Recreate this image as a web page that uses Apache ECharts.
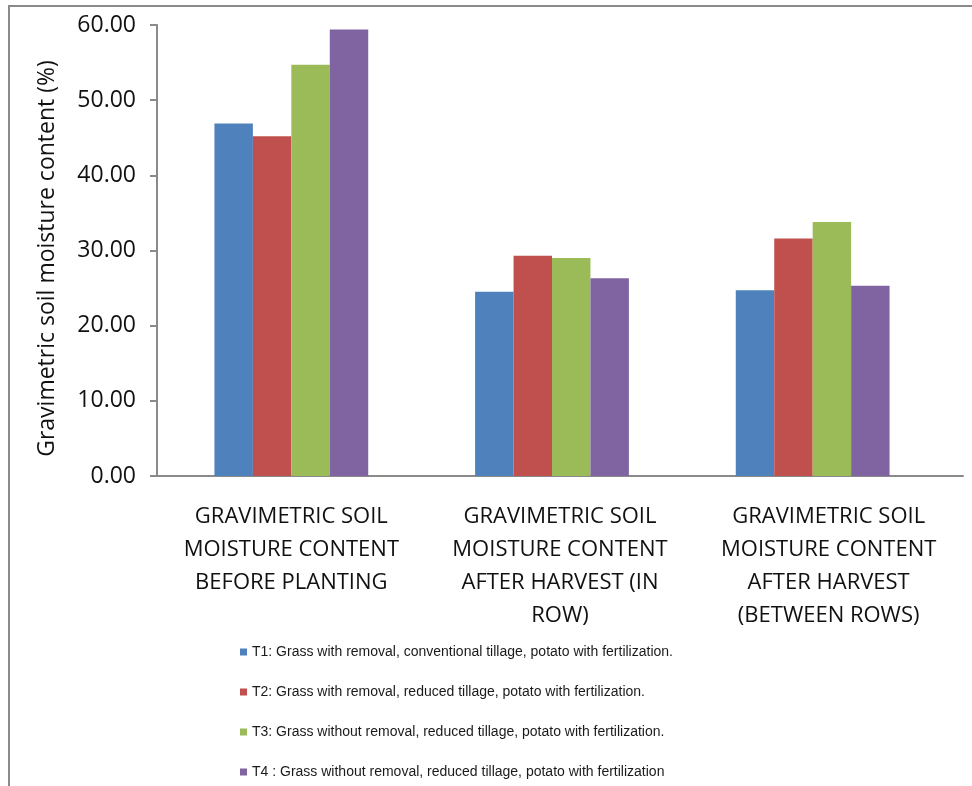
<!DOCTYPE html>
<html>
<head>
<meta charset="utf-8">
<script src="https://cdn.jsdelivr.net/npm/echarts@6/dist/echarts.min.js"></script>
<style>
  html, body { margin: 0; padding: 0; background: #fff; }
  #chart { width: 972px; height: 786px; }
</style>
</head>
<body>
<div id="chart"></div>
<script>
// Sampling stages (category axis)
const categories = [
  'GRAVIMETRIC SOIL\nMOISTURE CONTENT\nBEFORE PLANTING',
  'GRAVIMETRIC SOIL\nMOISTURE CONTENT\nAFTER HARVEST (IN\nROW)',
  'GRAVIMETRIC SOIL\nMOISTURE CONTENT\nAFTER HARVEST\n(BETWEEN ROWS)'
];

// Treatment names
const treatmentNames = [
  'T1: Grass with removal, conventional tillage, potato with fertilization.',
  'T2: Grass with removal, reduced tillage, potato with fertilization.',
  'T3: Grass without removal, reduced tillage, potato with fertilization.',
  'T4 : Grass without removal, reduced tillage, potato with fertilization'
];

// Gravimetric soil moisture content (%) per treatment, per stage
const t1Values = [46.9, 24.5, 24.7];
const t2Values = [45.2, 29.3, 31.6];
const t3Values = [54.7, 29.0, 33.8];
const t4Values = [59.4, 26.3, 25.3];

// Y axis ticks
const yMin = 0;
const yMax = 60;
const yStep = 10;

const seriesColors = ['#4F81BD', '#C0504D', '#9BBB59', '#8064A2'];
const allValues = [t1Values, t2Values, t3Values, t4Values];

const axisGray = '#8a8a8a';
const labelFont = 'Open Sans';

const chart = echarts.init(document.getElementById('chart'), null, { renderer: 'canvas' });

const option = {
  backgroundColor: '#ffffff',
  animation: false,
  graphic: [{
    type: 'rect',
    shape: { x: 9, y: 6, width: 1000, height: 1000 },
    style: { fill: 'none', stroke: axisGray, lineWidth: 2 },
    silent: true,
    z: 0
  }],
  grid: [
    { left: 161, top: 25, width: 782, height: 451 },
    { left: 157, top: 25, width: 806, height: 451 }
  ],
  legend: {
    orient: 'vertical',
    left: 240,
    top: 645,
    padding: 0,
    itemWidth: 7,
    itemHeight: 7,
    itemGap: 26,
    icon: 'rect',
    data: treatmentNames,
    textStyle: { fontFamily: 'Liberation Sans', fontSize: 14, color: '#1a1a1a', lineHeight: 14 }
  },
  xAxis: [
    {
      type: 'category',
      gridIndex: 0,
      data: categories,
      axisLine: { show: false },
      axisTick: { show: false },
      axisLabel: { show: false }
    },
    {
      type: 'category',
      gridIndex: 1,
      data: categories,
      axisLine: { show: true, lineStyle: { color: axisGray, width: 2 } },
      axisTick: { show: false },
      axisLabel: {
        show: true,
        interval: 0,
        margin: 24,
        fontFamily: labelFont,
        fontSize: 22,
        lineHeight: 33,
        color: '#111'
      }
    }
  ],
  yAxis: [
    {
      type: 'value',
      gridIndex: 0,
      min: yMin,
      max: yMax,
      interval: yStep,
      offset: 4,
      name: 'Gravimetric soil moisture content (%)',
      nameLocation: 'middle',
      nameGap: 98,
      nameTextStyle: { fontFamily: labelFont, fontSize: 23, color: '#111', padding: [0, 16, 0, 0] },
      axisLine: { show: true, lineStyle: { color: axisGray, width: 2 } },
      axisTick: { show: true, length: 7, lineStyle: { color: axisGray, width: 2 } },
      splitLine: { show: false },
      axisLabel: {
        margin: 21,
        fontFamily: labelFont,
        fontSize: 23,
        color: '#111',
        formatter: v => v.toFixed(2)
      }
    },
    {
      type: 'value',
      gridIndex: 1,
      min: yMin,
      max: yMax,
      show: false
    }
  ],
  series: treatmentNames.map((name, i) => ({
    name: name,
    type: 'bar',
    xAxisIndex: 0,
    yAxisIndex: 0,
    data: allValues[i],
    barGap: '0%',
    barCategoryGap: '41%',
    itemStyle: { color: seriesColors[i] }
  }))
};

chart.setOption(option);
</script>
</body>
</html>
